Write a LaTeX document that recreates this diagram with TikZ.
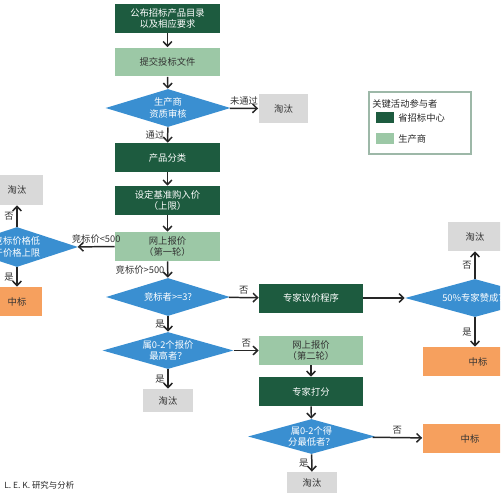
\documentclass[tikz,border=0pt]{standalone}
\usepackage{fontspec}
\newfontfamily\cjk{Noto Sans CJK SC}
\usetikzlibrary{shapes.geometric,arrows.meta}
\definecolor{orgdark}{HTML}{1D5B3F}
\definecolor{orglight}{HTML}{9CC8A6}
\definecolor{askblue}{HTML}{3A8FD1}
\definecolor{outgray}{HTML}{D9D9D9}
\definecolor{winorange}{HTML}{F6A05E}
\definecolor{legline}{HTML}{9DB8A8}
\begin{document}
\begin{tikzpicture}[x=0.02cm, y=-0.02cm,
  every node/.style={font=\cjk\fontsize{5.3}{6.6}\selectfont, align=center},
  darkbox/.style={fill=orgdark, text=white, inner sep=0pt, minimum width=2.1cm, minimum height=0.58cm},
  lightbox/.style={fill=orglight, text=black!80, inner sep=0pt, minimum width=2.1cm, minimum height=0.58cm},
  askbox/.style={diamond, fill=askblue, text=white, inner sep=0pt},
  outbox/.style={fill=outgray, text=black!80, inner sep=0pt, minimum width=1cm, minimum height=0.58cm},
  winbox/.style={fill=winorange, text=black!80, inner sep=0pt, minimum height=0.58cm},
  flow/.style={-{Straight Barb[length=2.6pt,width=5pt]}, line width=0.85pt, black!85},
  lbl/.style={font=\cjk\fontsize{5.3}{6.6}\selectfont, text=black!80, inner sep=1.5pt}]
\useasboundingbox (0,0) rectangle (500,500);
\clip (0,0) rectangle (500,500);
% main column
\node[darkbox] (pub) at (167.5,18.5) {公布招标产品目录\\以及相应要求};
\node[lightbox] (sub) at (167.5,62) {提交投标文件};
\node[askbox, shape aspect=3.3, minimum width=2.5cm, minimum height=0.76cm] (qual) at (168,108) {生产商\\资质审核};
\node[outbox] (out1) at (283.5,108.5) {淘汰};
\node[darkbox] (cls) at (167.5,157.5) {产品分类};
\node[darkbox] (base) at (167.5,200.5) {设定基准购入价\\（上限）};
\node[lightbox] (bid1) at (167.5,246.5) {网上报价\\（第一轮）};
\node[askbox, shape aspect=3.26, minimum width=2.48cm, minimum height=0.76cm] (cnt) at (168,297) {竞标者>=3?};
\node[askbox, shape aspect=3.5, minimum width=2.62cm, minimum height=0.74cm] (top) at (168,350.5) {属0-2个报价\\最高者？};
\node[outbox, minimum height=0.46cm] (out4) at (168,400.5) {淘汰};
% left branch
\node[askbox, shape aspect=3, minimum width=2.44cm, minimum height=0.8cm] (low) at (17,247) {竞标价格低\\于价格上限};
\node[outbox, minimum width=1.04cm, minimum height=0.6cm] (out2) at (17,190) {淘汰};
\node[winbox, minimum width=1cm] (win1) at (17,301.5) {中标};
% right branch
\node[darkbox, minimum width=2.08cm] (exp) at (311,298) {专家议价程序};
\node[askbox, shape aspect=3.7, minimum width=2.8cm, minimum height=0.76cm] (vote) at (475,298) {50\%专家赞成？};
\node[outbox, minimum width=1.08cm] (out3) at (475,236.5) {淘汰};
\node[winbox, minimum width=2.2cm] (win2) at (478,361.5) {中标};
\node[lightbox, minimum width=2.08cm] (bid2) at (311,350.5) {网上报价\\（第二轮）};
\node[darkbox, minimum width=2.08cm] (score) at (311,391.5) {专家打分};
\node[askbox, shape aspect=3.6, minimum width=2.54cm, minimum height=0.7cm] (lowsc) at (311.5,436.5) {属0-2个得\\分最低者？};
\node[outbox, minimum height=0.42cm] (out5) at (312,482.5) {淘汰};
\node[winbox, minimum width=1.9cm] (win3) at (470,438.5) {中标};
% legend
\draw[legline, line width=0.7pt] (369,92) rectangle (471,154);
\node[anchor=west, text=black!85, inner sep=0pt] (legtitle) at (372,103.5) {关键活动参与者};
\node[fill=orgdark, minimum width=0.36cm, minimum height=0.22cm, inner sep=0pt] (legdark) at (385,117.5) {};
\node[anchor=west, text=black!85, inner sep=0pt] (legdarktxt) at (398,117.5) {省招标中心};
\node[fill=orglight, minimum width=0.36cm, minimum height=0.22cm, inner sep=0pt] (leglight) at (385,138.5) {};
\node[anchor=west, text=black!85, inner sep=0pt] (leglighttxt) at (398,138.5) {生产商};
\node[anchor=west, text=black!85, inner sep=0pt, font=\cjk\fontsize{4.8}{6}\selectfont] (src) at (4,485) {L. E. K. 研究与分析};
% connectors
\draw[flow] (pub) -- (sub);
\draw[flow] (sub) -- (qual);
\draw[flow] (qual) -- node[lbl, above] {未通过} (out1);
\draw[flow] (qual) -- node[lbl, left] {通过} (cls);
\draw[flow] (cls) -- (base);
\draw[flow] (base) -- (bid1);
\draw[flow] (bid1) -- node[lbl, above] {竞标价<500} (low);
\draw[flow] (bid1) -- node[lbl, left] {竞标价>500} (cnt);
\draw[flow] (low) -- node[lbl, left] {否} (out2);
\draw[flow] (low) -- node[lbl, left] {是} (win1);
\draw[flow] (cnt) -- node[lbl, above] {否} (exp);
\draw[flow] (cnt) -- node[lbl, left] {是} (top);
\draw[flow] (top) -- node[lbl, above] {否} (bid2);
\draw[flow] (top) -- node[lbl, left] {是} (out4);
\draw[flow] (exp) -- (vote);
\draw[flow] (vote) -- node[lbl, left] {否} (out3);
\draw[flow] (vote) -- node[lbl, left] {是} (win2.north -| vote);
\draw[flow] (bid2) -- (score);
\draw[flow] (score) -- (lowsc);
\draw[flow] (lowsc) -- node[lbl, above] {否} (win3);
\draw[flow] (lowsc) -- node[lbl, left] {是} (out5);
\end{tikzpicture}
\end{document}
